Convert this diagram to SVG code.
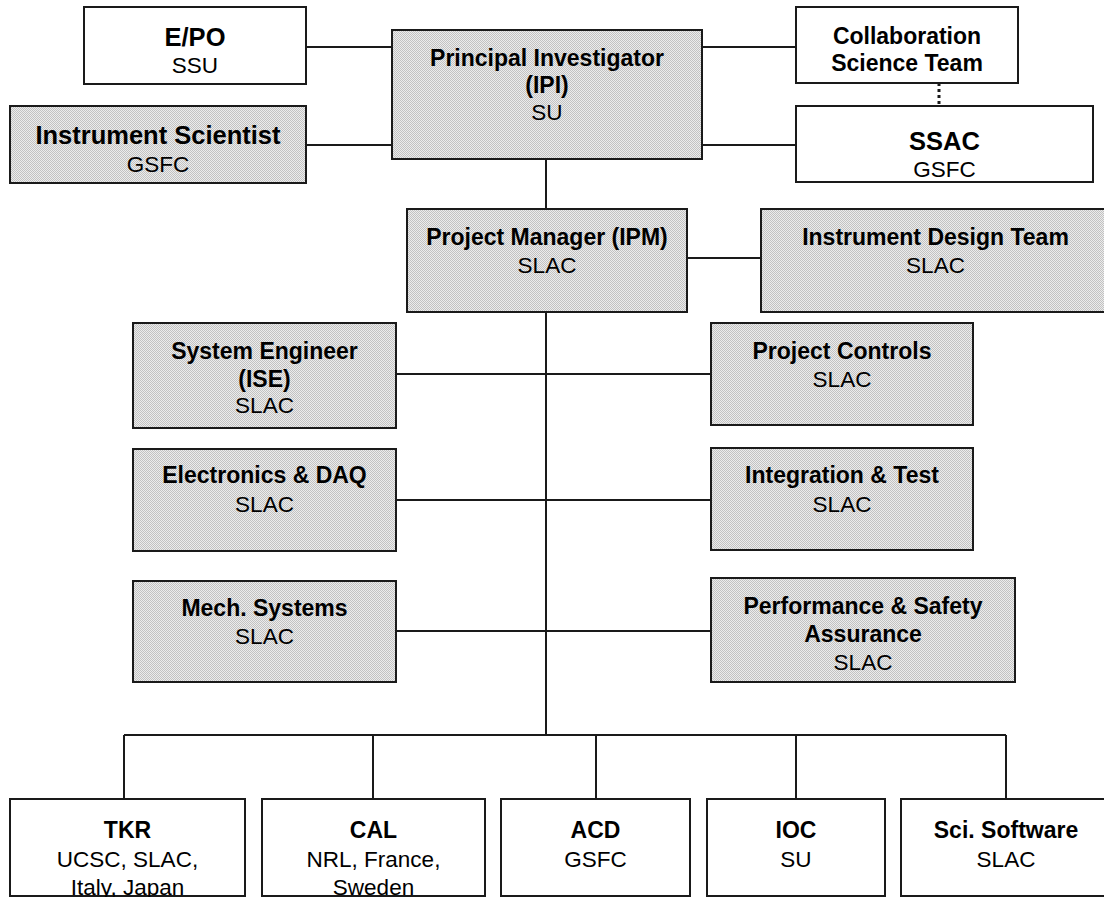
<svg xmlns="http://www.w3.org/2000/svg" width="1104" height="897" viewBox="0 0 1104 897">
<defs>
<pattern id="hatch" x="0" y="0" width="2" height="2" patternUnits="userSpaceOnUse">
<rect x="0" y="0" width="2" height="2" fill="#ececec"/>
<rect x="0" y="0" width="1" height="1" fill="#c2c2c2"/>
<rect x="1" y="1" width="1" height="1" fill="#c2c2c2"/>
</pattern>
</defs>
<style>
.box{stroke:#1a1a1a;stroke-width:2;fill:#ffffff}
.sh{fill:url(#hatch)}
.con{stroke:#1a1a1a;stroke-width:2;fill:none}
.dot{stroke:#1a1a1a;stroke-width:3;stroke-dasharray:3 3;fill:none}
text{font-family:"Liberation Sans",Arial,sans-serif;text-anchor:middle;fill:#000}
.b{font-weight:bold;font-size:23px}
.bl{font-weight:bold;font-size:25.5px}
.r{font-size:22.5px}
</style>
<g id="connectors">
<path class="con" d="M306 47H392M306 145H392M702 47H796M702 145H796"/>
<path class="dot" d="M939 83V106"/>
<path class="con" d="M546 159V209M687 258H761M546 312V735M396 374H711M396 500H711M396 631H711"/>
<path class="con" d="M124 735H1006M124 735V799M373 735V799M596 735V799M796 735V799M1006 735V799"/>
</g>
<g id="epo">
<rect class="box" x="84" y="7" width="222" height="77"/>
<text class="bl" x="195" y="45.5">E/PO</text>
<text class="r" x="195" y="73">SSU</text>
</g>
<g id="instrument-scientist">
<rect class="box sh" x="10" y="106" width="296" height="77"/>
<text class="bl" x="158" y="144">Instrument Scientist</text>
<text class="r" x="158" y="171.5">GSFC</text>
</g>
<g id="pi">
<rect class="box sh" x="392" y="30" width="310" height="129"/>
<text class="b" x="547" y="65.5">Principal Investigator</text>
<text class="b" x="547" y="92.5">(IPI)</text>
<text class="r" x="547" y="120">SU</text>
</g>
<g id="collab">
<rect class="box" x="796" y="7" width="222" height="76"/>
<text class="b" x="907" y="43.5">Collaboration</text>
<text class="b" x="907" y="71">Science Team</text>
</g>
<g id="ssac">
<rect class="box" x="796" y="106" width="297" height="76"/>
<text class="bl" x="944.5" y="150">SSAC</text>
<text class="r" x="944.5" y="177">GSFC</text>
</g>
<g id="pm">
<rect class="box sh" x="407" y="209" width="280" height="103"/>
<text class="b" x="547" y="245">Project Manager (IPM)</text>
<text class="r" x="547" y="272.5">SLAC</text>
</g>
<g id="idt">
<rect class="box sh" x="761" y="209" width="350" height="103"/>
<text class="b" x="935.5" y="245">Instrument Design Team</text>
<text class="r" x="935.5" y="272.5">SLAC</text>
</g>
<g id="se">
<rect class="box sh" x="133" y="323" width="263" height="105"/>
<text class="b" x="264.5" y="359">System Engineer</text>
<text class="b" x="264.5" y="386.5">(ISE)</text>
<text class="r" x="264.5" y="413">SLAC</text>
</g>
<g id="pc">
<rect class="box sh" x="711" y="323" width="262" height="102"/>
<text class="b" x="842" y="359">Project Controls</text>
<text class="r" x="842" y="386.5">SLAC</text>
</g>
<g id="elec">
<rect class="box sh" x="133" y="449" width="263" height="102"/>
<text class="b" x="264.5" y="483">Electronics &amp; DAQ</text>
<text class="r" x="264.5" y="512">SLAC</text>
</g>
<g id="it">
<rect class="box sh" x="711" y="448" width="262" height="102"/>
<text class="b" x="842" y="483">Integration &amp; Test</text>
<text class="r" x="842" y="511.5">SLAC</text>
</g>
<g id="mech">
<rect class="box sh" x="133" y="581" width="263" height="101"/>
<text class="b" x="264.5" y="615.5">Mech. Systems</text>
<text class="r" x="264.5" y="643.5">SLAC</text>
</g>
<g id="perf">
<rect class="box sh" x="711" y="578" width="304" height="104"/>
<text class="b" x="863" y="613.5">Performance &amp; Safety</text>
<text class="b" x="863" y="641.5">Assurance</text>
<text class="r" x="863" y="669.5">SLAC</text>
</g>
<g id="tkr">
<rect class="box" x="10" y="799" width="235" height="97"/>
<text class="b" x="127.5" y="837.5">TKR</text>
<text class="r" x="127.5" y="867">UCSC, SLAC,</text>
<text class="r" x="127.5" y="895">Italy, Japan</text>
</g>
<g id="cal">
<rect class="box" x="262" y="799" width="223" height="97"/>
<text class="b" x="373.5" y="837.5">CAL</text>
<text class="r" x="373.5" y="867">NRL, France,</text>
<text class="r" x="373.5" y="895">Sweden</text>
</g>
<g id="acd">
<rect class="box" x="501" y="799" width="189" height="97"/>
<text class="b" x="595.5" y="837.5">ACD</text>
<text class="r" x="595.5" y="867">GSFC</text>
</g>
<g id="ioc">
<rect class="box" x="707" y="799" width="178" height="97"/>
<text class="b" x="796" y="837.5">IOC</text>
<text class="r" x="796" y="867">SU</text>
</g>
<g id="sci">
<rect class="box" x="901" y="799" width="210" height="97"/>
<text class="b" x="1006" y="837.5">Sci. Software</text>
<text class="r" x="1006" y="867">SLAC</text>
</g>
</svg>
